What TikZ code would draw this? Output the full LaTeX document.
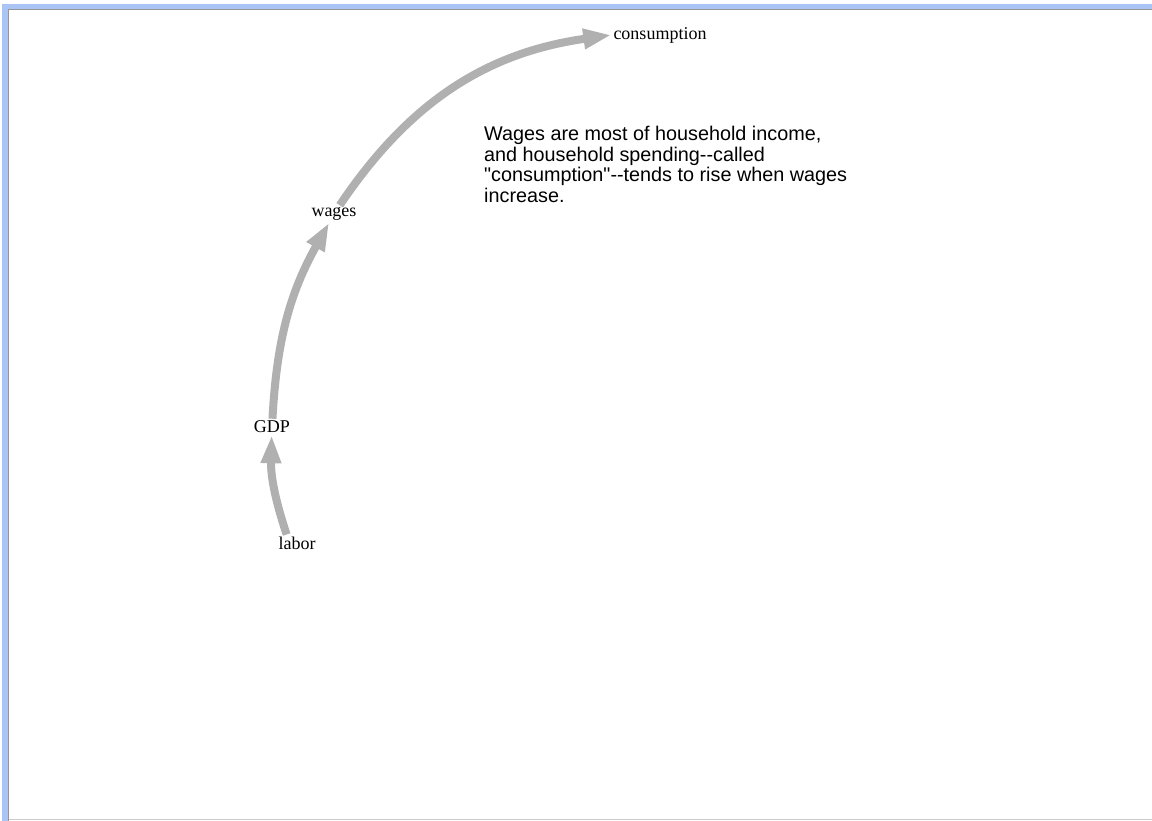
\documentclass[tikz,border=0pt]{standalone}
\usepackage{fontspec}
\setmainfont{Liberation Serif}
\newfontfamily\notefont{Liberation Sans}
\usetikzlibrary{arrows.meta,positioning,calc,backgrounds}
\definecolor{frameblue}{RGB}{170,196,246}
\definecolor{framegray}{RGB}{150,150,150}
\definecolor{linkgray}{RGB}{176,176,176}
\def\linkwidth{8pt}
\def\labelsize{18}
\tikzset{
  varlabel/.style={inner sep=2pt, font=\fontsize{\labelsize}{20}\selectfont},
  causelink/.style={draw=linkgray, line width=\linkwidth,
    -{Triangle[length=28pt,width=19pt]}},
}

\begin{document}
\begin{tikzpicture}[x=1pt,y=-1pt]
  \useasboundingbox (0,0) rectangle (1152,821);

  % window frame
  \fill[frameblue] (2,4) rectangle (1152,9);
  \fill[frameblue] (2,4) rectangle (8,821);
  \fill[framegray] (8,9) rectangle (1152,10.5);
  \fill[framegray] (7.5,9) rectangle (9,821);
  \fill[black!20] (9,819) rectangle (1152,820);

  % variables
  \node[varlabel] (labor) at (297,543) {labor};
  \node[varlabel] (GDP) at (272,427) {GDP};
  \node[varlabel] (wages) at (334,214) {wages};
  \node[varlabel] (consumption) at (660,35) {consumption};

  \node[anchor=north west, align=left, inner sep=0pt,
    font=\notefont\fontsize{19.8}{20.5}\selectfont] (note-text) at (484,126)
    {Wages are most of household income,\\
     and household spending-{}-called\\
     "consumption"-{}-tends to rise when wages\\
     increase.};

  % links
  \draw[causelink] ($ (labor.north)!0.5!(labor.north west) $) to[bend left=10] (GDP);
  \draw[causelink] (GDP) to[bend left=13] (wages);
  \draw[causelink] (wages) to[bend left=24] (consumption.west);

\end{tikzpicture}
\end{document}
